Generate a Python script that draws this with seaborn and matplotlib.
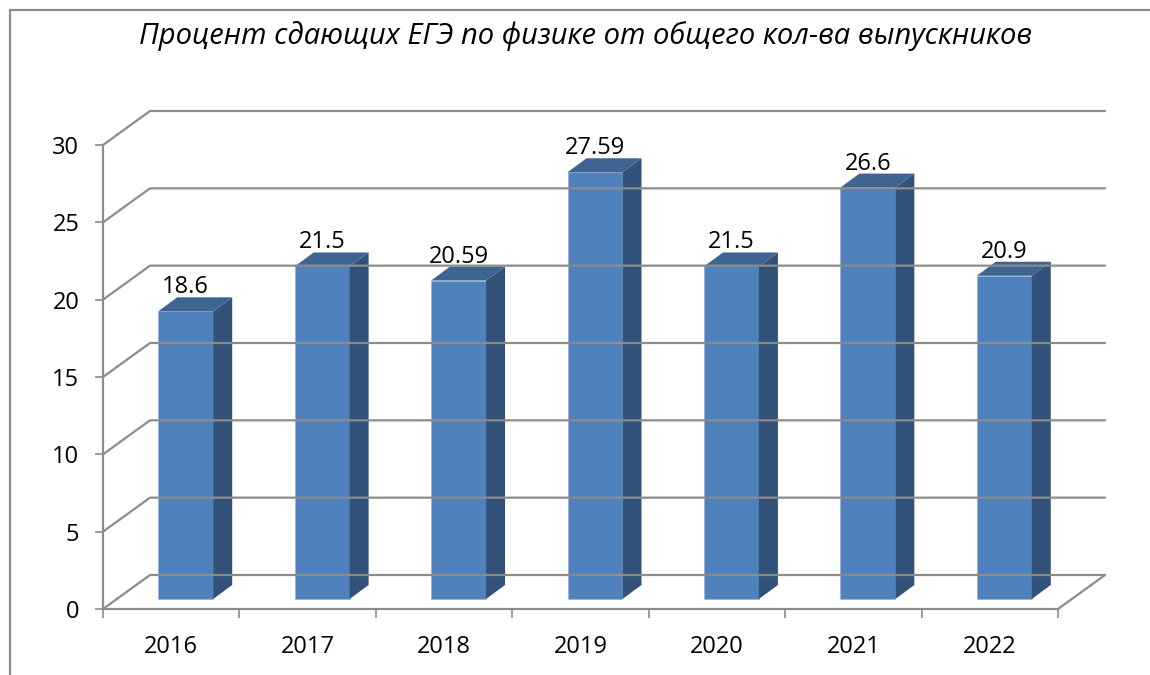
# plot.py - 3d-style column chart, EGE physics share
import matplotlib
matplotlib.use("Agg")
import matplotlib.pyplot as plt
import numpy as np
import pandas as pd
import seaborn as sns
from matplotlib.lines import Line2D
from matplotlib.patches import Polygon

# --------- data ---------
years = ["2016", "2017", "2018", "2019", "2020", "2021", "2022"]
values = [18.6, 21.5, 20.59, 27.59, 21.5, 26.6, 20.9]
value_labels = ["18.6", "21.5", "20.59", "27.59", "21.5", "26.6", "20.9"]
y_ticks = [0, 5, 10, 15, 20, 25, 30]
title = "Процент сдающих ЕГЭ по физике от общего кол-ва выпускников"

# --------- style (pixels at dpi=100) ---------
W, H = 1150, 675
DEPTH = (47, 34)       # back wall offset from the front plane
BAR_OFF = (14.5, 10)   # bar front face offset
BAR_DEPTH = (19, 14)   # bar side/top offset
GREY = "#8c8c8c"
FRONT, SIDE, TOP = "#4f81bd", "#32527a", "#3e6491"
FONT = "Open Sans"

sns.set_theme(style="white")
plt.rcParams["font.family"] = [FONT, "DejaVu Sans"]

fig = plt.figure(figsize=(W / 100, H / 100), dpi=100, facecolor="white")
ax = fig.add_axes([103 / W, (H - 609) / H, 955 / W, 464 / H])
ax.patch.set_alpha(0)

df = pd.DataFrame({"year": years, "value": values})
sns.barplot(data=df, x="year", y="value", color=FRONT, saturation=1, width=0.403, ax=ax, zorder=3)
ax.set_xlim(-0.5, len(years) - 0.5)
ax.set_ylim(y_ticks[0], y_ticks[-1])
ax.set_xlabel("")
ax.set_ylabel("")


def to_px(x, y, off=(0, 0)):
    return ax.transData.transform((x, y)) + np.array(off)


def add_px_line(points, **kw):
    xs, ys = zip(*points)
    fig.add_artist(Line2D(xs, ys, transform=None, color=GREY, lw=1.6, solid_capstyle="round", zorder=1, **kw))


# walls: diagonal + back line for every tick, floor closing on the right
x0, x1 = ax.get_xlim()
for t in y_ticks:
    add_px_line([to_px(x0, t), to_px(x0, t, DEPTH), to_px(x1, t, DEPTH)])
add_px_line([to_px(x1, 0), to_px(x1, 0, DEPTH)])

# bars: seaborn draws the front face, side and top are built from it
shift = np.array(BAR_OFF)
for bar, label in zip(ax.patches, value_labels):
    bx, bw, bh = bar.get_x(), bar.get_width(), bar.get_height()
    bar.set_transform(ax.transData + matplotlib.transforms.Affine2D().translate(*shift))
    bar.set_edgecolor("#8fb0d8")
    bar.set_linewidth(0.4)
    fl, fr = to_px(bx, bh, shift), to_px(bx + bw, bh, shift)
    br = to_px(bx + bw, 0, shift)
    d = np.array(BAR_DEPTH)
    ax.add_patch(Polygon([fr, br, br + d, fr + d], closed=True, transform=None, clip_on=False,
                         facecolor=SIDE, edgecolor="none", zorder=3))
    ax.add_patch(Polygon([fl, fr, fr + d, fl + d], closed=True, transform=None, clip_on=False,
                         facecolor=TOP, edgecolor="none", zorder=3))
    ax.annotate(label, xy=(bx + bw / 2, bh), xycoords="data",
                xytext=((BAR_OFF[0]) * 0.72, (BAR_OFF[1] + BAR_DEPTH[1] - 2) * 0.72), textcoords="offset points",
                ha="center", va="bottom", fontsize=17, color="black", zorder=5, annotation_clip=False)

# axes
for side in ("top", "right"):
    ax.spines[side].set_visible(False)
for side in ("left", "bottom"):
    ax.spines[side].set_color(GREY)
    ax.spines[side].set_linewidth(1.6)
ax.set_yticks(y_ticks)
ax.set_xticks(np.arange(len(years)))
ax.set_xticklabels(years)
ax.set_xticks(np.arange(len(years) + 1) - 0.5, minor=True)
ax.tick_params(axis="y", length=6, width=1.2, color=GREY, labelsize=17, labelcolor="black", pad=11, left=True)
ax.tick_params(axis="x", which="major", length=0, labelsize=17, labelcolor="black", pad=18.5, bottom=False)
ax.tick_params(axis="x", which="minor", length=6.5, width=1.2, color=GREY, bottom=True)

# chart frame, cut off by the image on the right and at the bottom
fig.add_artist(Line2D([10 / W, 1], [1 - 10 / H, 1 - 10 / H], transform=fig.transFigure, color=GREY, lw=1.6))
fig.add_artist(Line2D([10 / W, 10 / W], [0, 1 - 10 / H], transform=fig.transFigure, color=GREY, lw=1.6))

fig.text(585.5 / W, 1 - 36 / H, title, ha="center", va="center", fontsize=21, style="italic", color="black")

fig.savefig("out.png", dpi=100)
